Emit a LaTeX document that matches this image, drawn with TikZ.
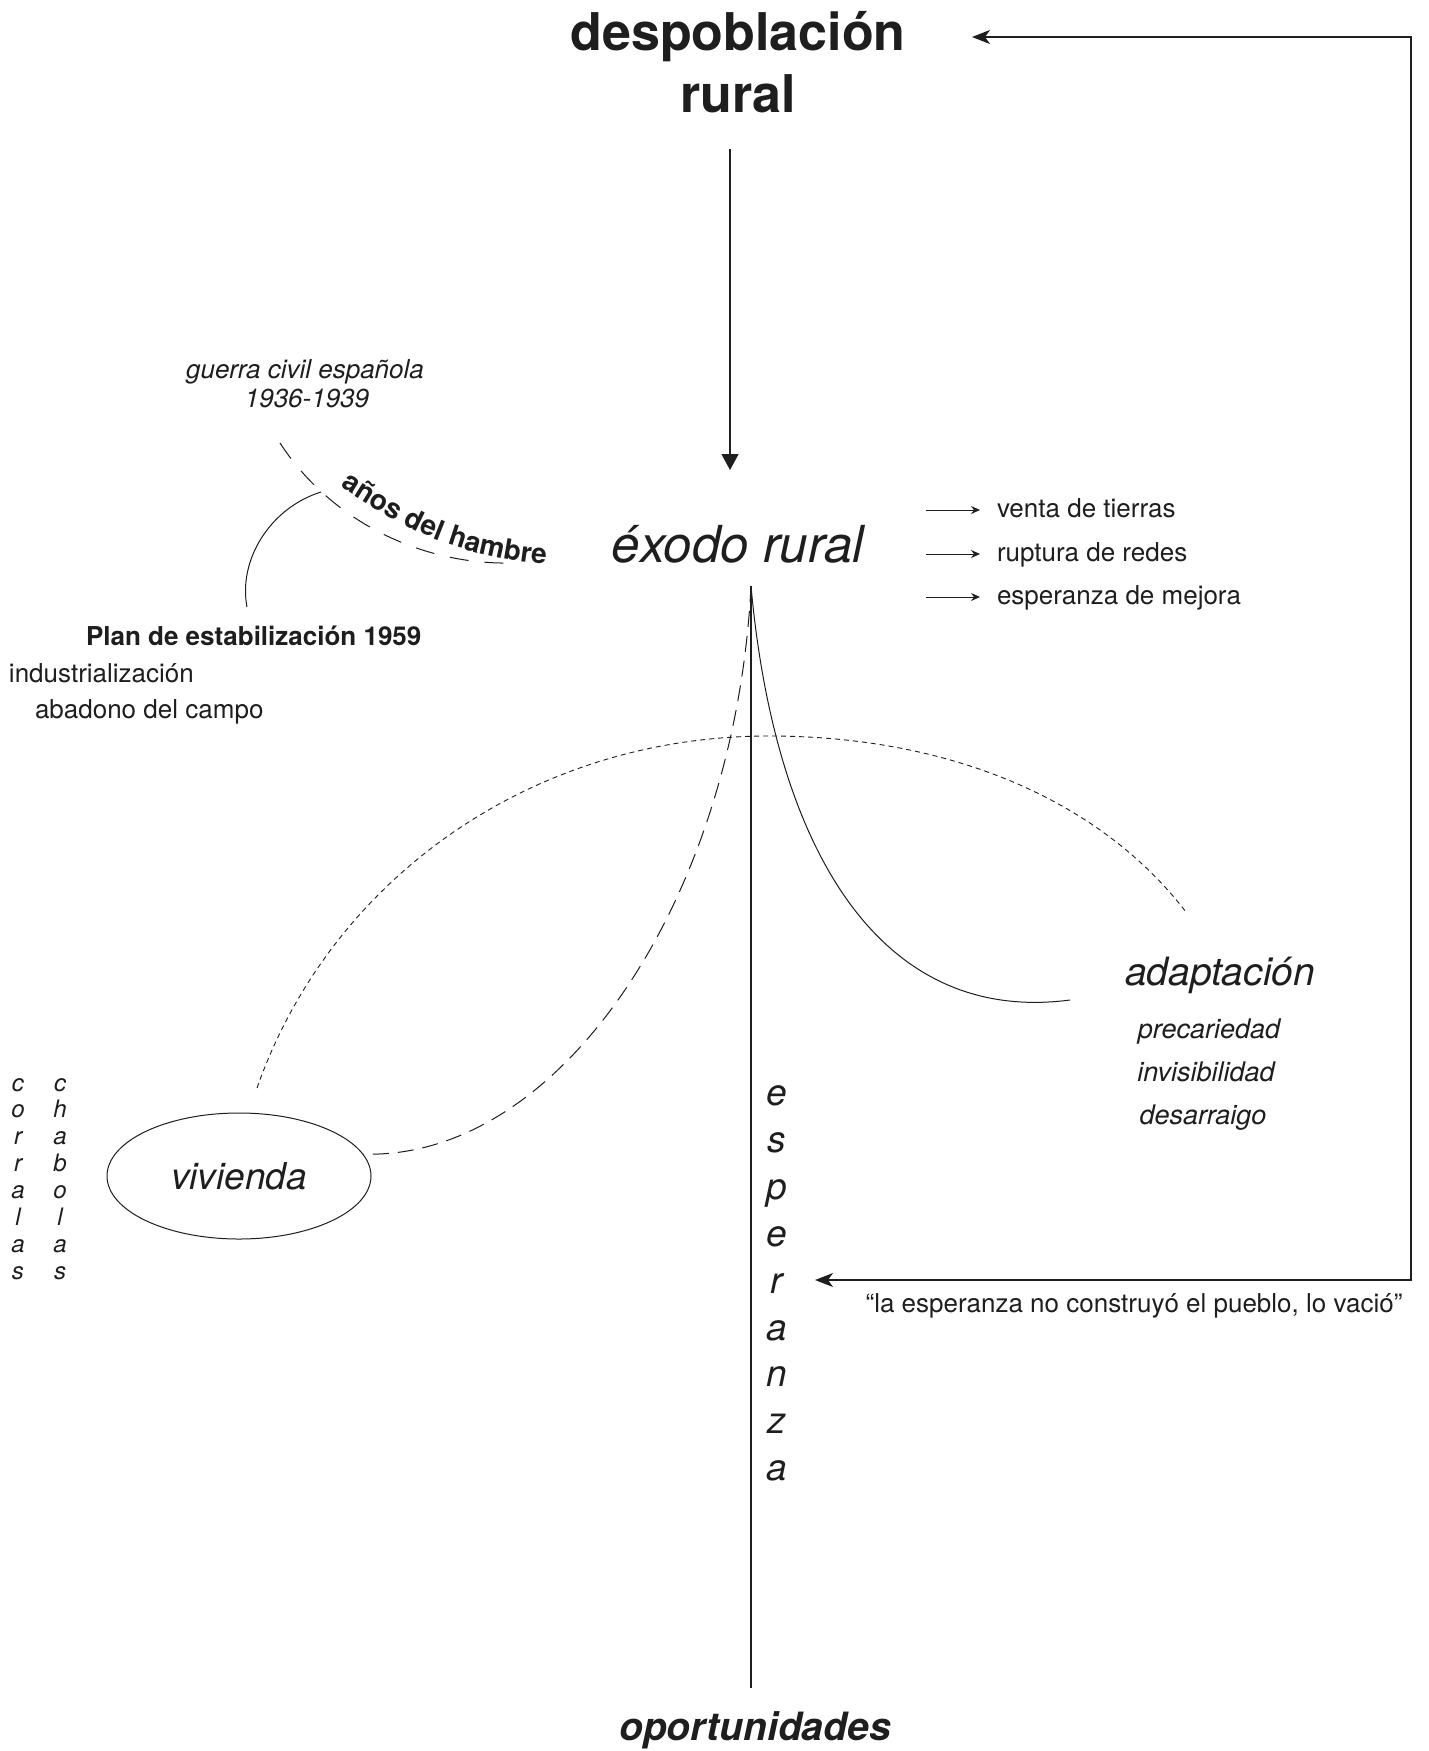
\documentclass[tikz,border=0pt]{standalone}
\usepackage{fontspec}
\setmainfont{TeX Gyre Heros}
\usetikzlibrary{arrows.meta,shapes.geometric,decorations.text,calc}
\definecolor{ink}{HTML}{1E1E1E}
\newcommand\fsz[1]{\fontsize{#1}{#1}\selectfont}
\begin{document}
\begin{tikzpicture}[x=1pt,y=1pt,
  txt/.style={inner sep=0pt,outer sep=0pt,text=ink},
  titletxt/.style={txt,font=\bfseries\fsz{52},anchor=base},
  mainarrow/.style={draw=ink,line width=1.5pt,-{Triangle[width=17pt,length=16pt]}},
  fbline/.style={draw=ink,line width=1.2pt,{Stealth[length=18pt,width=14pt,inset=5pt]}-{Stealth[length=18pt,width=14pt,inset=5pt]}},
  smallarrow/.style={draw=ink,line width=1pt,-{Stealth[length=9pt,width=8pt,inset=3pt]}},
  thincurve/.style={draw=ink,line width=1pt},
  dashcurve/.style={draw=ink,line width=1pt,dash pattern=on 16pt off 9pt},
  dotcurve/.style={draw=ink,line width=0.9pt,dash pattern=on 5pt off 4pt},
  hambrecurve/.style={draw=ink,line width=1pt,dash pattern=on 19pt off 16pt},
]
\fill[white] (0,0) rectangle (1428,-1751);
\useasboundingbox (0,0) rectangle (1428,-1751);

% title
\node[titletxt] (despob) at (738,-50) {despoblación};
\node[titletxt] (rural) at (738,-112) {rural};

% exodo
\node[txt,font=\itshape\fsz{51},anchor=base] (exodo) at (738,-562) {éxodo rural};
\draw[mainarrow] ($(rural.base)+(-8,-37)$) -- ($(exodo.base)+(-8,92)$);

% consequences
\foreach \t/\y/\n in {venta de tierras/517/v1, ruptura de redes/561/v2, esperanza de mejora/604/v3}{
  \node[txt,font=\fsz{26},anchor=base west] (\n) at (997,-\y) {\t};
  \draw[smallarrow] ($(\n.base west)+(-71,7)$) -- ($(\n.base west)+(-17,7)$);
}

% feedback loop
\coordinate (fbA) at (972,-37);
\coordinate (fbB) at (1411,-37);
\coordinate (fbC) at (1411,-1280);
\coordinate (fbD) at (815,-1280);
\draw[fbline] (fbA) -- (fbB) -- (fbC) -- (fbD);
\node[txt,font=\fsz{26},anchor=base] (quote) at (1134,-1312) {“la esperanza no construyó el pueblo, lo vació”};

% guerra civil
\node[txt,font=\itshape\fsz{26},anchor=base] (guerra) at (305,-378) {guerra civil española};
\node[txt,font=\itshape\fsz{26},anchor=base] (years) at (307,-407) {1936-1939};

% años del hambre
\coordinate (hA) at (280,-443);
\coordinate (hB) at (512,-563);
\draw[hambrecurve] (hA) .. controls (330,-520) and (420,-565) .. (hB);
\path[decorate,decoration={text along path,text color=ink,
  text={|\bfseries\fsz{28}|años del hambre},text align=left}]
  (340,-487) .. controls (400,-524) and (450,-561) .. (580,-567);

% plan arc
\coordinate (pA) at (321,-492);
\coordinate (pB) at (247,-607);
\draw[thincurve] (pA) .. controls (270,-508) and (238,-560) .. (pB);

\node[txt,font=\bfseries\fsz{26},anchor=base west] (plan) at (86,-645) {Plan de estabilización 1959};
\node[txt,font=\fsz{26},anchor=base west] (indus) at (9,-682) {industrialización};
\node[txt,font=\fsz{26},anchor=base west] (aband) at (35,-718) {abadono del campo};

% central lines
\coordinate (exb) at (751,-586);
\coordinate (vend) at (751,-1688);
\draw[draw=ink,line width=1.2pt] (exb) -- (vend);

\node[ellipse,draw=ink,line width=1pt,minimum width=264pt,minimum height=126pt,
  inner sep=0pt,font=\itshape\fsz{37},text=ink] (viv) at (239,-1176) {vivienda};

\coordinate (adEnd) at (1070,-1000);
\draw[thincurve] (exb) .. controls (775,-850) and (880,-1025) .. (adEnd);
\draw[dashcurve] (exb) .. controls (735,-900) and (560,-1160) .. (viv.10);

\coordinate (dotA) at (257,-1088);
\coordinate (dotB) at (1186,-912);
\draw[dotcurve] (dotA) .. controls (330,-880) and (530,-736) .. (769,-736)
  .. controls (950,-736) and (1100,-800) .. (dotB);

% adaptacion
\node[txt,font=\itshape\fsz{39},anchor=base] (adapt) at (1220,-985) {adaptación};
\node[txt,font=\itshape\fsz{27},anchor=base] (prec) at (1209,-1038) {precariedad};
\node[txt,font=\itshape\fsz{27},anchor=base] (invis) at (1206,-1081) {invisibilidad};
\node[txt,font=\itshape\fsz{27},anchor=base] (desar) at (1203,-1124) {desarraigo};

% esperanza vertical
\foreach \l [count=\i from 0] in {e,s,p,e,r,a,n,z,a}
  \node[txt,font=\itshape\fsz{37},anchor=base] (esp\i) at (777,{-1105.5-46.9*\i}) {\l};

% corralas / chabolas
\foreach \l [count=\i from 0] in {c,o,r,r,a,l,a,s}
  \node[txt,font=\itshape\fsz{24},anchor=base] (cor\i) at (18,{-1091-26.9*\i}) {\l};
\foreach \l [count=\i from 0] in {c,h,a,b,o,l,a,s}
  \node[txt,font=\itshape\fsz{24},anchor=base] (cha\i) at (60,{-1091-26.9*\i}) {\l};

% oportunidades
\node[txt,font=\bfseries\itshape\fsz{39},anchor=base] (oport) at (755,-1740) {oportunidades};
\end{tikzpicture}
\end{document}
